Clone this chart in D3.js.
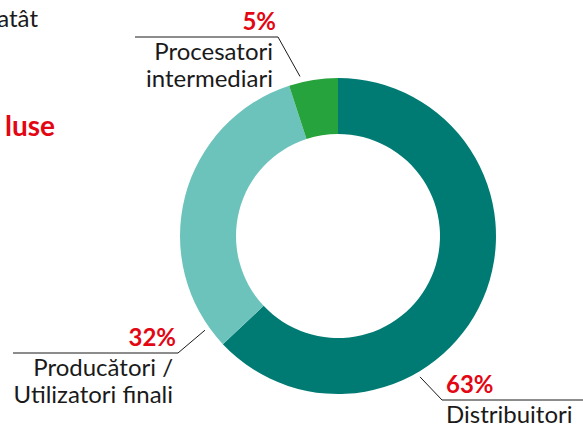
<!DOCTYPE html>
<html>
<head>
<meta charset="utf-8">
<script src="https://cdn.jsdelivr.net/npm/d3@7"></script>
<style>
  body { margin: 0; background: #fff; }
  text { font-family: Lato, "Open Sans", sans-serif; }
</style>
</head>
<body>
<div id="chart"></div>
<script>
// data
var categories = ["Distribuitori", "Producători / Utilizatori finali", "Procesatori intermediari"];
var values = [63, 32, 5];
var pctLabels = ["63%", "32%", "5%"];
var labelLines = [["Distribuitori"], ["Producători /", "Utilizatori finali"], ["Procesatori", "intermediari"]];
var colors = ["#007b74", "#6cc3bc", "#26a33c"];

var width = 583, height = 424;
var cx = 338, cy = 236, outerR = 158, innerR = 102;
var fontSize = 24, pctSize = 24;

var svg = d3.select("#chart").append("svg")
  .attr("width", width)
  .attr("height", height);

// cropped text fragments at the left edge
svg.append("text")
  .attr("x", 38).attr("y", 27)
  .attr("text-anchor", "end")
  .attr("font-size", fontSize).attr("fill", "#1a1a1a")
  .text("atât");
svg.append("text")
  .attr("x", 55).attr("y", 136)
  .attr("text-anchor", "end")
  .attr("font-size", 28).attr("font-weight", "bold").attr("fill", "#e30613")
  .text("luse");

var pie = d3.pie().sort(null).value(function(d) { return d; });
var arc = d3.arc().innerRadius(innerR).outerRadius(outerR);
var arcs = pie(values);

var g = svg.append("g").attr("transform", "translate(" + cx + "," + cy + ")");

g.selectAll("path.slice")
  .data(arcs).enter()
  .append("path")
    .attr("class", "slice")
    .attr("d", arc)
    .attr("fill", function(d, i) { return colors[i]; });

// leader lines: angle (deg) + radius of start point, elbow and end in page coords
var leaders = [
  {ang: 149.8, r: 163, elbow: [442, 400], end: [583, 400], side: "right"},
  {ang: 234.7, r: 163, elbow: [178, 353], end: [13, 353], side: "left"},
  {ang: 346.6, r: 164, elbow: [278, 37], end: [135, 37], side: "left"}
];

leaders.forEach(function(l, i) {
  var p = d3.pointRadial(l.ang * Math.PI / 180, l.r);
  var start = [cx + p[0], cy + p[1]];
  svg.append("path")
    .attr("d", d3.line()([start, l.elbow, l.end]))
    .attr("fill", "none")
    .attr("stroke", "#1a1a1a")
    .attr("stroke-width", 1);

  var right = l.side == "right";
  var tx = right ? l.elbow[0] + 4 : l.elbow[0] - 2;
  var anchor = right ? "start" : "end";

  svg.append("text")
    .attr("x", tx)
    .attr("y", l.elbow[1] - 7)
    .attr("text-anchor", anchor)
    .attr("font-size", pctSize)
    .attr("font-weight", "bold")
    .attr("fill", "#e30613")
    .text(pctLabels[i]);

  svg.selectAll(null)
    .data(labelLines[i]).enter()
    .append("text")
      .attr("x", right ? tx : tx - 3)
      .attr("y", function(d, j) { return l.elbow[1] + 23 + j * 26.5; })
      .attr("text-anchor", anchor)
      .attr("font-size", fontSize)
      .attr("fill", "#1a1a1a")
      .text(function(d) { return d; });
});
</script>
</body>
</html>
